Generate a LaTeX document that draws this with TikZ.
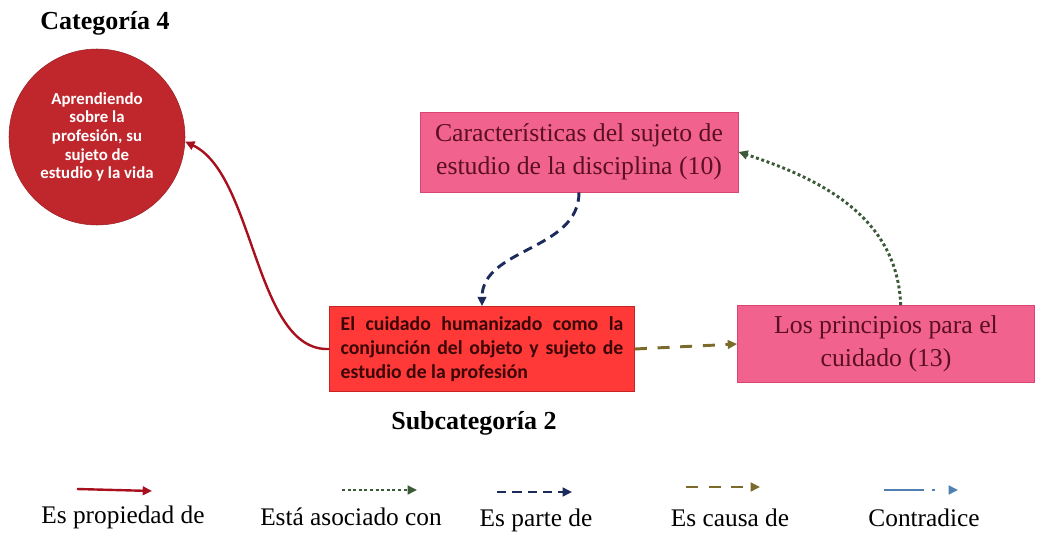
\documentclass[tikz,border=0pt]{standalone}
\usepackage{fontspec}
\setmainfont{Liberation Serif}
\newfontfamily\calib{Carlito}
\usetikzlibrary{arrows.meta}
\definecolor{circred}{HTML}{C0272D}
\definecolor{boxpink}{HTML}{F2628F}
\definecolor{pinkedge}{HTML}{D94470}
\definecolor{boxred}{HTML}{FF3838}
\definecolor{rededge}{HTML}{C42424}
\definecolor{pinktext}{HTML}{5A0F22}
\definecolor{redtext}{HTML}{3A0606}
\definecolor{arrred}{HTML}{A8101E}
\definecolor{arrnavy}{HTML}{1C2A5C}
\definecolor{arrolive}{HTML}{7A6A2C}
\definecolor{arrgreen}{HTML}{3A5A38}
\definecolor{arrsteel}{HTML}{4F80B2}
\tikzset{
  heading/.style={font=\bfseries\fontsize{19.5}{22}\selectfont, inner sep=0pt},
  pinkbox/.style={draw=pinkedge, fill=boxpink, line width=0.6pt, text=pinktext,
     font=\fontsize{19.3}{24.5}\selectfont, align=center, inner sep=0pt},
  redbox/.style={draw=rededge, fill=boxred, line width=0.6pt, text=redtext, inner sep=0pt},
  legtext/.style={font=\fontsize{19}{22}\selectfont, inner sep=0pt},
  tip/.style={-{Triangle[length=7pt,width=6.5pt]}},
  propiedad/.style={tip, draw=arrred, line width=1.8pt},
  asociado/.style={tip, draw=arrgreen, line width=2.2pt, dash pattern=on 2.2pt off 2pt},
  parte/.style={tip, draw=arrnavy, line width=2.2pt, dash pattern=on 7pt off 4.5pt},
  causa/.style={tip, draw=arrolive, line width=2.2pt, dash pattern=on 9pt off 8pt},
  contradice/.style={tip, draw=arrsteel, line width=2pt, dash pattern=on 30pt off 6pt on 2.2pt off 20pt},
}
\begin{document}
\begin{tikzpicture}[x=0.75pt,y=0.75pt]
\useasboundingbox (0,0) rectangle (1045,-535);

\node[heading] (cat4) at (105,-23) {Categoría 4};
\node[circle, fill=circred, draw=circred!80!black, line width=0.4pt, minimum size=132pt, inner sep=0pt,
      text=white, align=center, font=\calib\bfseries\fontsize{12.6}{14}\selectfont]
      (circ) at (97,-137) {Aprendiendo\\sobre la\\profesión, su\\sujeto de\\estudio y la vida};

\node[pinkbox, minimum width=238.5pt, minimum height=60pt] (car) at (579,-152)
  {Características del sujeto de\\estudio de la disciplina (10)};

\node[redbox, minimum width=228.75pt, minimum height=63.75pt] (cuid) at (482,-349)
  {\parbox{212pt}{\calib\bfseries\fontsize{14.8}{18}\selectfont
   \makebox[212pt][s]{El cuidado humanizado como la}\\
   \makebox[212pt][s]{conjunción del objeto y sujeto de}\\
   estudio de la profesión}};

\node[pinkbox, minimum width=222.75pt, minimum height=57.75pt] (prin) at (886,-344)
  {Los principios para el\\cuidado (13)};

\node[heading] (sub2) at (474,-423) {Subcategoría 2};

% connectors
\draw[propiedad] (cuid.west) .. controls (255,-352) and (255,-175) .. (circ.-3);
\draw[parte] (car.south) to[out=-90,in=90] (cuid.north);
\draw[causa] (cuid.east) -- (prin.west);
\draw[asociado] ([xshift=11pt]prin.north) to[out=92,in=-18] (car.east);

% legend
\coordinate (l1a) at (77,-489); \coordinate (l1b) at (152,-491);
\coordinate (l2a) at (342,-490); \coordinate (l2b) at (417,-490);
\coordinate (l3a) at (497,-492); \coordinate (l3b) at (572,-492);
\coordinate (l4a) at (686,-487); \coordinate (l4b) at (760,-487);
\coordinate (l5a) at (884,-490); \coordinate (l5b) at (958,-490);
\draw[propiedad] (l1a) -- (l1b);
\draw[asociado] (l2a) -- (l2b);
\draw[parte] (l3a) -- (l3b);
\draw[causa] (l4a) -- (l4b);
\draw[contradice] (l5a) -- (l5b);

\node[legtext] (t1) at (123,-517) {Es propiedad de};
\node[legtext] (t2) at (351,-517) {Está asociado con};
\node[legtext] (t3) at (536,-520) {Es parte de};
\node[legtext] (t4) at (730,-518) {Es causa de};
\node[legtext] (t5) at (924,-518) {Contradice};
\end{tikzpicture}
\end{document}
